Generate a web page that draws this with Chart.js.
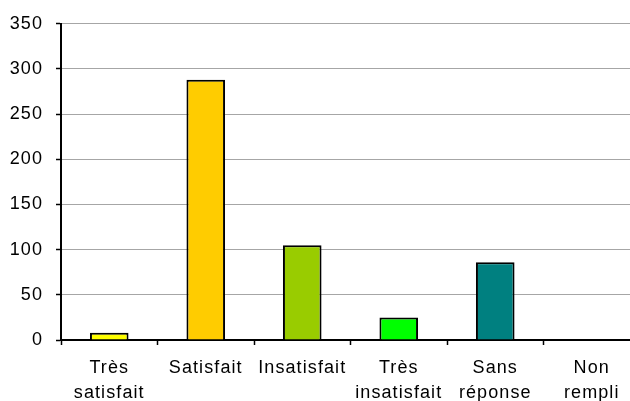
<!DOCTYPE html>
<html>
<head>
<meta charset="utf-8">
<script src="https://cdn.jsdelivr.net/npm/chart.js@4"></script>
<style>
  html, body { margin: 0; padding: 0; background: #fff; overflow: hidden; }
  #wrap { width: 630px; height: 401px; overflow: hidden; }
  canvas { display: block; }
</style>
</head>
<body>
<div id="wrap"><canvas id="satisfactionChart" width="641" height="401"></canvas></div>
<script>
const categories = [
    ['Très', 'satisfait'],
    ['Satisfait'],
    ['Insatisfait'],
    ['Très', 'insatisfait'],
    ['Sans', 'réponse'],
    ['Non', 'rempli']
];
const responses = [8, 288, 105, 25, 86, 0];
const barColors = ['#FFFF00', '#FFCC00', '#99CC00', '#00FF00', '#008080', '#FFFFFF'];
const yTicks = [0, 50, 100, 150, 200, 250, 300, 350];

const ctx = document.getElementById('satisfactionChart');

// old-style spread out lettering, like the original export
const spacedText = {
    id: 'spacedText',
    beforeDraw: function (chart) { chart.ctx.letterSpacing = '1.1px'; }
};

new Chart(ctx.getContext('2d'), {
    type: 'bar',
    data: {
        labels: categories,
        datasets: [{
            label: 'Réponses',
            data: responses,
            backgroundColor: barColors,
            borderColor: '#000000',
            borderWidth: 2,
            barPercentage: 0.4,
            categoryPercentage: 1
        }]
    },
    options: {
        responsive: false,
        animation: false,
        devicePixelRatio: 1,
        layout: {
            padding: { top: 21.5, right: 1, left: 0, bottom: 0 }
        },
        scales: {
            x: {
                offset: true,
                grid: {
                    offset: true,
                    drawOnChartArea: false,
                    drawTicks: true,
                    tickLength: 5,
                    tickColor: '#000000',
                    tickWidth: 1.5
                },
                border: { color: '#000000', width: 2 },
                ticks: {
                    color: '#000000',
                    padding: 10,
                    maxRotation: 0,
                    autoSkip: false,
                    font: { family: 'Arial, "Liberation Sans", sans-serif', size: 18, lineHeight: 1.4 }
                },
                afterFit: function (scale) { scale.height = 61; }
            },
            y: {
                min: 0,
                max: 350,
                afterBuildTicks: function (scale) {
                    scale.ticks = yTicks.map(v => ({ value: v }));
                },
                grid: {
                    color: '#A6A6A6',
                    lineWidth: 1,
                    drawTicks: true,
                    tickLength: 5,
                    tickColor: '#000000',
                    tickWidth: 1.5
                },
                border: { color: '#000000', width: 2 },
                ticks: {
                    color: '#000000',
                    padding: 13,
                    font: { family: 'Arial, "Liberation Sans", sans-serif', size: 18 }
                },
                afterFit: function (scale) { scale.width = 61; }
            }
        },
        plugins: {
            legend: { display: false },
            tooltip: { enabled: false }
        }
    },
    plugins: [spacedText]
});
</script>
</body>
</html>
